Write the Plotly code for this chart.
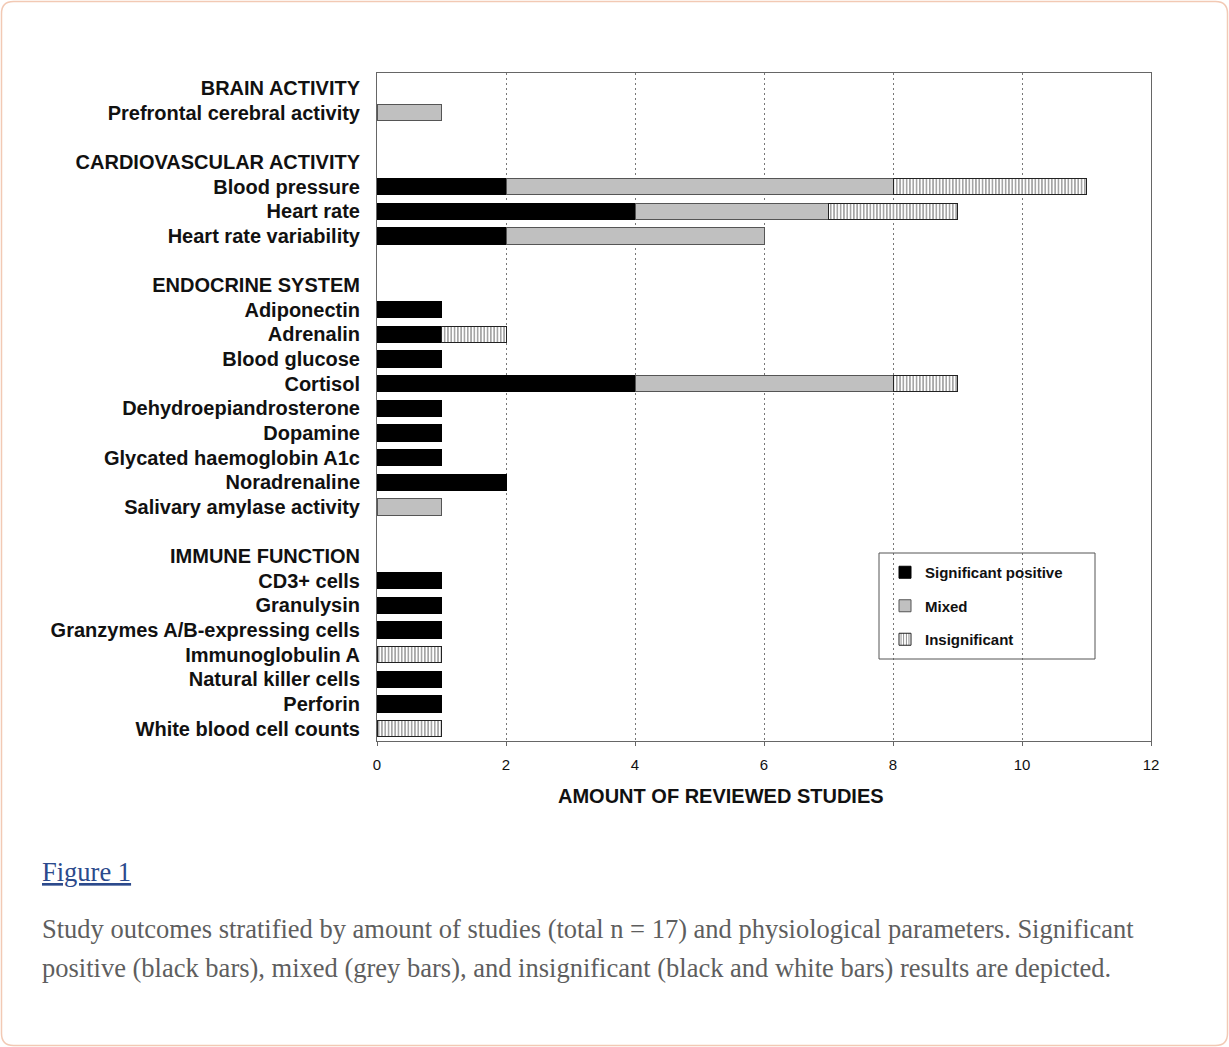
import plotly.graph_objects as go

# ---- data ----
row_labels = [
    "BRAIN ACTIVITY", "Prefrontal cerebral activity", "",
    "CARDIOVASCULAR ACTIVITY", "Blood pressure", "Heart rate", "Heart rate variability", "",
    "ENDOCRINE SYSTEM", "Adiponectin", "Adrenalin", "Blood glucose", "Cortisol",
    "Dehydroepiandrosterone", "Dopamine", "Glycated haemoglobin A1c", "Noradrenaline",
    "Salivary amylase activity", "",
    "IMMUNE FUNCTION", "CD3+ cells", "Granulysin", "Granzymes A/B-expressing cells",
    "Immunoglobulin A", "Natural killer cells", "Perforin", "White blood cell counts",
]
significant_positive = [0, 0, 0, 0, 2, 4, 2, 0, 0, 1, 1, 1, 4, 1, 1, 1, 2, 0, 0, 0, 1, 1, 1, 0, 1, 1, 0]
mixed =                [0, 1, 0, 0, 6, 3, 4, 0, 0, 0, 0, 0, 4, 0, 0, 0, 0, 1, 0, 0, 0, 0, 0, 0, 0, 0, 0]
insignificant =        [0, 0, 0, 0, 3, 2, 0, 0, 0, 0, 1, 0, 1, 0, 0, 0, 0, 0, 0, 0, 0, 0, 0, 1, 0, 0, 1]
x_ticks = [0, 2, 4, 6, 8, 10, 12]

W, H = 1229, 1047
L, R, T, B = 377, 1151, 73, 741
positions = list(range(len(row_labels)))

def px_x(p):
    return (p - L) / (R - L)

def px_y(p):
    return (B - p) / (B - T)

def nz(vals):
    return [v if v else None for v in vals]

FONT = "Liberation Sans, Arial, sans-serif"
SERIF = "Liberation Serif, Times New Roman, serif"

fig = go.Figure()
bw = 0.66
fig.add_trace(go.Bar(
    y=positions, x=nz(significant_positive), orientation="h", name="Significant positive",
    width=bw, marker=dict(color="#000000", line=dict(color="#000000", width=1)),
    legendgroup="a",
))
fig.add_trace(go.Bar(
    y=positions, x=nz(mixed), orientation="h", name="Mixed",
    width=bw, marker=dict(color="#c0c0c0", line=dict(color="#555555", width=1)),
    legendgroup="b",
))
fig.add_trace(go.Bar(
    y=positions, x=nz(insignificant), orientation="h", name="Insignificant",
    width=bw, marker=dict(color="#ffffff", line=dict(color="#222222", width=1),
                          pattern=dict(shape="|", fgcolor="#000000", bgcolor="#ffffff",
                                       size=3.3, solidity=0.35)),
    legendgroup="c",
))

ticktext = [f"<b>{t}</b>" if t else "" for t in row_labels]

fig.update_layout(
    width=W, height=H,
    margin=dict(l=L, r=W - R, t=T, b=H - B, autoexpand=False),
    barmode="stack",
    paper_bgcolor="#ffffff", plot_bgcolor="#ffffff",
    font=dict(family=FONT, color="#111111"),
    showlegend=True,
    legend=dict(
        x=px_x(885), y=px_y(556), xanchor="left", yanchor="top",
        bgcolor="rgba(0,0,0,0)", borderwidth=0,
        font=dict(size=15, family=FONT, color="#111111", weight="bold"),
        tracegroupgap=11, itemwidth=30,
    ),
    xaxis=dict(
        range=[0, 12], tickvals=x_ticks, ticktext=[str(v) for v in x_ticks],
        showgrid=True, gridcolor="#777777", griddash="2px,3px", gridwidth=1,
        showline=True, linecolor="#666666", linewidth=1, mirror=True,
        ticks="outside", ticklen=4, tickcolor="#666666",
        tickfont=dict(size=15, family=FONT, color="#111111"),
        ticklabelstandoff=6,
        zeroline=False, fixedrange=True,
    ),
    yaxis=dict(
        range=[len(row_labels) - 0.5, -0.61],
        tickvals=positions, ticktext=ticktext,
        tickfont=dict(size=20, family=FONT, color="#111111"),
        showline=True, linecolor="#666666", linewidth=1, mirror=True,
        showgrid=False, zeroline=False, ticks="", ticklabelstandoff=12,
        fixedrange=True,
    ),
)

# legend box
fig.add_shape(type="rect", xref="paper", yref="paper",
              x0=px_x(879), x1=px_x(1095), y0=px_y(659), y1=px_y(553),
              line=dict(color="#555555", width=1), fillcolor="rgba(0,0,0,0)", layer="above")

# outer rounded frame
x0, x1 = px_x(1.5), px_x(1227.5)
y0, y1 = px_y(1045.5), px_y(1.5)
rx = 12 / (R - L)
ry = 12 / (B - T)
path = (f"M{x0+rx},{y1} L{x1-rx},{y1} Q{x1},{y1} {x1},{y1-ry} "
        f"L{x1},{y0+ry} Q{x1},{y0} {x1-rx},{y0} L{x0+rx},{y0} "
        f"Q{x0},{y0} {x0},{y0+ry} L{x0},{y1-ry} Q{x0},{y1} {x0+rx},{y1} Z")
fig.add_shape(type="path", xref="paper", yref="paper", path=path,
              line=dict(color="#f2c9b4", width=1.5), fillcolor="rgba(0,0,0,0)", layer="below")

# axis title
fig.add_annotation(xref="paper", yref="paper", x=px_x(721), y=px_y(796),
                   text="<b>AMOUNT OF REVIEWED STUDIES</b>", showarrow=False,
                   xanchor="center", yanchor="middle",
                   font=dict(size=20, family=FONT, color="#111111"))

# caption
fig.add_annotation(xref="paper", yref="paper", x=px_x(40), y=px_y(872),
                   text="<u>Figure 1</u>", showarrow=False, xanchor="left", yanchor="middle",
                   font=dict(size=26.5, family=SERIF, color="#2c4a8c"))
caption_lines = [
    "Study outcomes stratified by amount of studies (total n = 17) and physiological parameters. Significant",
    "positive (black bars), mixed (grey bars), and insignificant (black and white bars) results are depicted.",
]
for line, ypix in zip(caption_lines, [929, 968]):
    fig.add_annotation(xref="paper", yref="paper", x=px_x(40), y=px_y(ypix),
                       text=line, showarrow=False, xanchor="left", yanchor="middle", align="left",
                       font=dict(size=26.5, family=SERIF, color="#5e5e5e"))

fig.write_html("out.html", config={"displayModeBar": False},
               post_script="document.body.style.margin='0';document.body.style.padding='0';")
